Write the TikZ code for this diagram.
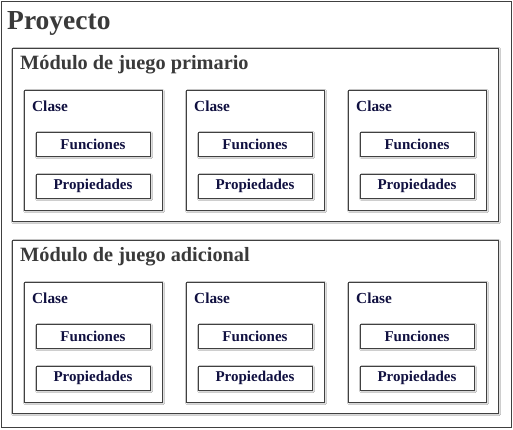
\documentclass[tikz,border=0pt]{standalone}
\usepackage{fontspec}
\setmainfont{Liberation Serif}
\usetikzlibrary{shadows,shadows.blur}
\definecolor{headc}{HTML}{3A3A3A}
\definecolor{navy}{HTML}{101040}
\definecolor{edgec}{HTML}{404040}
\tikzset{
  box/.style={draw=edgec, line width=0.9pt, fill=white, anchor=north west, inner sep=0pt, outer sep=0pt},
  shbox/.style={box, blur shadow={shadow xshift=1.2pt, shadow yshift=-1.2pt, shadow blur steps=4, shadow blur radius=1.5pt, shadow opacity=25}},
  modtitle/.style={anchor=west, font=\fontsize{20.3}{23}\selectfont\bfseries, text=headc, inner sep=0pt},
  clstitle/.style={anchor=west, font=\fontsize{15.3}{18}\selectfont\bfseries, text=navy, inner sep=0pt},
  itemtext/.style={font=\fontsize{15}{17}\selectfont\bfseries, text=navy, inner sep=0pt},
}
\begin{document}
\begin{tikzpicture}[x=1pt,y=-1pt]
\useasboundingbox (0,0) rectangle (513,429);
\node[box, minimum width=510pt, minimum height=426pt] (proj) at (1,1) {};
\node[anchor=base west, font=\fontsize{27.5}{30}\selectfont\bfseries, text=headc, inner sep=0pt] (projt) at (7,29) {Proyecto};
\foreach \m/\my/\mt in {1/48/primario, 2/240/adicional}{
  \node[shbox, minimum width=486pt, minimum height=173pt] (mod\m) at (12,\my) {};
  \node[modtitle] (modt\m) at (20,\my+16.5) {Módulo de juego \mt};
  \foreach \c/\cx in {1/24, 2/186, 3/348}{
    \node[shbox, minimum width=138pt, minimum height=120pt] (cls\m\c) at (\cx,\my+42) {};
    \node[clstitle] (clst\m\c) at (\cx+8,\my+58) {Clase};
    \node[shbox, minimum width=114pt, minimum height=24pt] (fun\m\c) at (\cx+12,\my+84) {};
    \node[itemtext] (funt\m\c) at (fun\m\c.center) {Funciones};
    \node[shbox, minimum width=114pt, minimum height=24pt] (pro\m\c) at (\cx+12,\my+126) {};
    \node[itemtext] (prot\m\c) at (pro\m\c.center) {Propiedades};
  }
}
\end{tikzpicture}
\end{document}
